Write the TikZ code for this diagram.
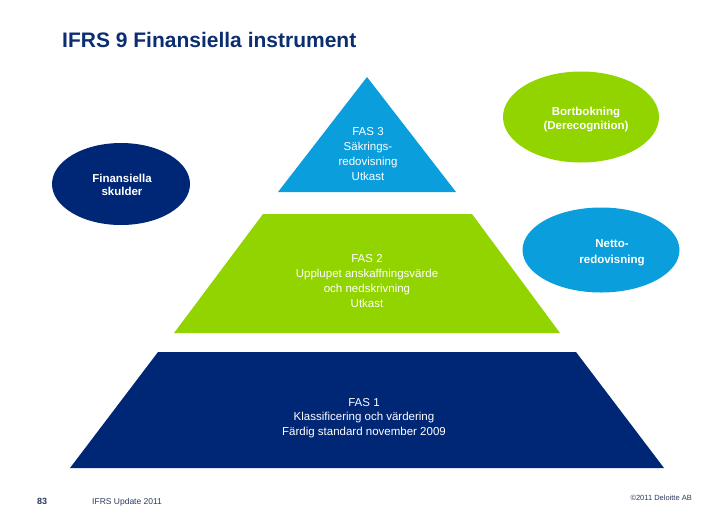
\documentclass[tikz,border=0pt]{standalone}
\usepackage{fontspec}
\setmainfont{Liberation Sans}
\usetikzlibrary{shapes.geometric}
\definecolor{dnavy}{HTML}{002776}
\definecolor{dgreen}{HTML}{92D400}
\definecolor{dblue}{HTML}{0A9FDC}
\definecolor{titlecol}{HTML}{0B2D71}
\definecolor{footcol}{HTML}{2B3A5C}
\begin{document}
\begin{tikzpicture}[x=1pt,y=-1pt,
  lbl/.style={text=white, align=center, inner sep=0pt},
  oval/.style={ellipse, draw=none, inner sep=0pt},
  ovaltext/.style={text=white, align=center, inner sep=0pt, font=\bfseries\fontsize{11.5}{14}\selectfont}]
\useasboundingbox (0,0) rectangle (728,515);
% pyramid
\fill[dnavy] (158,352) -- (576,352) -- (664,468) -- (70,468) -- cycle;
\fill[dgreen] (263,214) -- (472,214) -- (560,333) -- (174,333) -- cycle;
\fill[dblue] (367,77) -- (456,192) -- (278,192) -- cycle;
\node[lbl, font=\fontsize{11.5}{15}\selectfont] (fas3) at (368,154) {FAS 3\\Säkrings-\\redovisning\\Utkast};
\node[lbl, font=\fontsize{11.5}{15.3}\selectfont] (fas2) at (367,281) {FAS 2\\Upplupet anskaffningsvärde\\och nedskrivning\\Utkast};
\node[lbl, font=\fontsize{11.5}{14.5}\selectfont] (fas1) at (364,418) {FAS 1\\Klassificering och värdering\\Färdig standard november 2009};
% ellipses
\node[oval, fill=dnavy, minimum width=138, minimum height=82] (skulder) at (121,184) {};
\node[ovaltext, font=\bfseries\fontsize{11.5}{13}\selectfont] (skuldertxt) at (122,185) {Finansiella\\skulder};
\node[oval, fill=dgreen, minimum width=156, minimum height=91] (bort) at (581,117) {};
\node[ovaltext] (borttxt) at (586,120) {Bortbokning\\(Derecognition)};
\node[oval, fill=dblue, minimum width=157, minimum height=85] (netto) at (601,250) {};
\node[ovaltext, font=\bfseries\fontsize{11.5}{15.5}\selectfont] (nettotxt) at (612,253) {Netto-\\redovisning};
% title and footer
\node[anchor=base west, inner sep=0pt, text=titlecol, font=\bfseries\fontsize{21}{25}\selectfont] (title) at (62,47) {IFRS 9 Finansiella instrument};
\node[anchor=base west, inner sep=0pt, text=footcol, font=\bfseries\fontsize{9}{10}\selectfont] (page) at (37,504) {83};
\node[anchor=base west, inner sep=0pt, text=footcol, font=\fontsize{8.5}{10}\selectfont] (upd) at (92,504) {IFRS Update 2011};
\node[anchor=base east, inner sep=0pt, text=footcol, font=\fontsize{7.5}{9}\selectfont] (copy) at (692,500) {©2011 Deloitte AB};
\end{tikzpicture}
\end{document}
